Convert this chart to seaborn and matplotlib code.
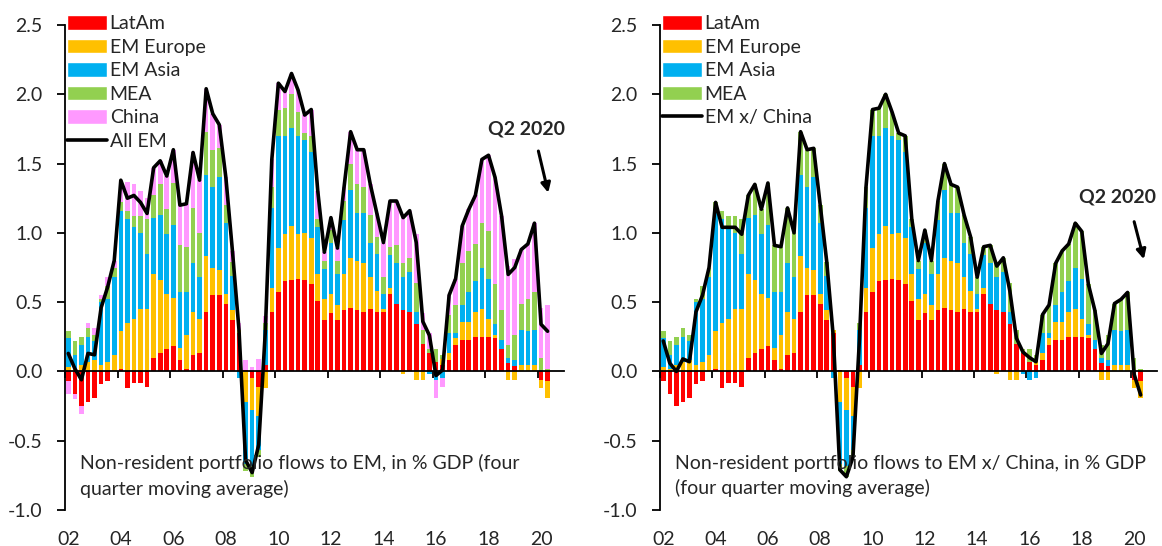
import numpy as np
import pandas as pd
import matplotlib
matplotlib.use("Agg")
import matplotlib.pyplot as plt
import matplotlib.transforms as mtransforms
import seaborn as sns
from matplotlib.patches import Patch
from matplotlib.lines import Line2D
from matplotlib.ticker import FormatStrFormatter

# quarterly data, 2002Q1 .. 2020Q2 (four quarter moving average, % GDP)
quarters = pd.period_range("2002Q1", "2020Q2", freq="Q")

latam = [
    -0.07, -0.16, -0.25, -0.22, -0.19, -0.09, -0.07, 0.00,
    0.02, -0.12, -0.08, -0.08, -0.11, 0.10, 0.13, 0.16,
    0.18, 0.08, 0.02, 0.12, 0.13, 0.43, 0.55, 0.55,
    0.49, 0.37, 0.28, 0.01, -0.05, -0.11, 0.05, 0.43,
    0.57, 0.65, 0.66, 0.67, 0.66, 0.63, 0.51, 0.37,
    0.42, 0.37, 0.44, 0.46, 0.44, 0.43, 0.45, 0.43,
    0.43, 0.56, 0.49, 0.44, 0.43, 0.34, 0.20, 0.13,
    0.07, 0.05, 0.08, 0.19, 0.23, 0.23, 0.25, 0.25,
    0.25, 0.24, 0.16, 0.06, 0.04, 0.00, 0.00, 0.00,
    -0.06, -0.07,
]
em_europe = [
    0.03, 0.02, 0.05, 0.07, 0.08, 0.05, 0.07, 0.12,
    0.27, 0.35, 0.38, 0.45, 0.45, 0.60, 0.53, 0.40,
    0.35, 0.09, 0.24, 0.31, 0.25, 0.40, 0.20, 0.18,
    0.07, 0.07, 0.02, -0.22, -0.23, -0.21, -0.12, 0.17,
    0.32, 0.34, 0.39, 0.32, 0.34, 0.33, 0.19, 0.15,
    0.14, 0.11, 0.26, 0.36, 0.36, 0.35, 0.23, 0.15,
    0.02, 0.04, 0.00, -0.02, 0.00, -0.06, -0.06, 0.00,
    0.00, 0.04, 0.05, 0.05, 0.13, 0.13, 0.18, 0.20,
    0.13, 0.02, 0.00, -0.06, -0.06, 0.05, 0.05, 0.05,
    -0.06, -0.12,
]
em_asia = [
    0.21, 0.10, 0.14, 0.18, 0.14, 0.45, 0.45, 0.56,
    0.87, 0.75, 0.66, 0.55, 0.40, 0.41, 0.47, 0.43,
    0.53, 0.40, 0.31, 0.35, 0.30, 0.59, 0.58, 0.67,
    0.51, 0.25, -0.05, -0.45, -0.40, -0.25, 0.25, 0.58,
    0.81, 0.71, 0.71, 0.71, 0.67, 0.62, 0.34, 0.22,
    0.37, 0.22, 0.39, 0.49, 0.34, 0.36, 0.25, 0.27,
    0.11, 0.24, 0.29, 0.24, 0.29, 0.09, 0.00, -0.02,
    -0.06, -0.05, 0.15, 0.04, 0.12, 0.21, 0.22, 0.30,
    0.29, 0.08, 0.07, 0.04, 0.04, 0.25, 0.24, 0.25,
    0.01, 0.00,
]
mea = [
    0.05, 0.10, 0.06, 0.06, 0.04, 0.02, 0.10, 0.07,
    0.06, 0.06, 0.08, 0.12, 0.25, 0.16, 0.22, 0.18,
    0.30, 0.34, 0.33, 0.40, 0.32, 0.31, 0.27, 0.21,
    0.13, 0.10, 0.00, -0.05, -0.08, -0.05, 0.05, 0.15,
    0.19, 0.20, 0.24, 0.17, 0.05, 0.12, 0.06, 0.06,
    0.09, 0.10, 0.14, 0.19, 0.21, 0.19, 0.20, 0.12,
    0.12, 0.06, 0.13, 0.10, 0.10, 0.21, 0.10, 0.03,
    0.09, 0.03, 0.13, 0.20, 0.30, 0.30, 0.27, 0.32,
    0.34, 0.29, 0.21, 0.09, 0.18, 0.19, 0.23, 0.27,
    0.09, 0.02,
]
china = [
    -0.09, -0.04, -0.06, 0.04, 0.05, 0.03, 0.06, 0.05,
    0.16, 0.21, 0.23, 0.18, 0.15, 0.20, 0.17, 0.24,
    0.24, 0.29, 0.31, 0.40, 0.38, 0.31, 0.26, 0.17,
    0.20, 0.08, 0.05, 0.07, 0.03, 0.09, 0.05, 0.20,
    0.19, 0.12, 0.15, 0.16, 0.13, 0.19, 0.20, 0.06,
    0.09, 0.09, 0.10, 0.23, 0.25, 0.27, 0.22, 0.17,
    0.25, 0.33, 0.32, 0.35, 0.34, 0.35, 0.12, 0.12,
    -0.13, -0.06, 0.14, 0.19, 0.27, 0.30, 0.35, 0.46,
    0.55, 0.77, 0.68, 0.57, 0.55, 0.39, 0.40, 0.50,
    0.36, 0.46,
]

year_labels = ["02", "04", "06", "08", "10", "12", "14", "16", "18", "20"]

colors = {
    "LatAm": "#FF0000",
    "EM Europe": "#FFC000",
    "EM Asia": "#00B0F0",
    "MEA": "#92D050",
    "China": "#FF99FF",
}

sns.set_theme(style="white")
plt.rcParams["font.family"] = ["Lato", "DejaVu Sans"]
plt.rcParams["axes.unicode_minus"] = False
FS = 14
TXT = "#262626"


def stacked_panel(ax, series, line_label, note, q2_text_xy, q2_arrow):
    x = np.arange(len(quarters))
    pos_base = np.zeros(len(x))
    neg_base = np.zeros(len(x))
    for name, vals in series.items():
        v = np.asarray(vals)
        bottom = np.where(v >= 0, pos_base, neg_base)
        ax.bar(x, v, bottom=bottom, width=0.7, color=colors[name], linewidth=0)
        pos_base += np.where(v >= 0, v, 0)
        neg_base += np.where(v < 0, v, 0)

    total = pos_base + neg_base
    sns.lineplot(x=x, y=total, color="black", linewidth=2.6, ax=ax)

    ax.set_xlim(-0.5, 75.5)
    ax.set_ylim(-1.0, 2.5)
    ax.set_yticks(np.arange(-1.0, 2.51, 0.5))
    ax.yaxis.set_major_formatter(FormatStrFormatter("%.1f"))

    for s in ["top", "right"]:
        ax.spines[s].set_visible(False)
    ax.spines["left"].set_color("black")
    ax.spines["left"].set_linewidth(1.3)
    ax.spines["bottom"].set_position(("data", 0))
    ax.spines["bottom"].set_color("black")
    ax.spines["bottom"].set_linewidth(1.3)

    ax.set_xticks(np.arange(-0.5, 76, 8))
    ax.set_xticklabels([])
    ax.tick_params(axis="x", direction="out", length=5, width=1.3, color="black", bottom=True)
    ax.tick_params(axis="y", direction="out", length=6, width=1.3, color="black",
                   left=True, labelsize=FS, labelcolor=TXT, pad=10)

    trans = mtransforms.blended_transform_factory(ax.transData, ax.transAxes)
    for k, lab in enumerate(year_labels):
        ax.text(8 * k, -0.06, lab, transform=trans, ha="center", va="center",
                fontsize=FS, color=TXT)

    ax.text(0.03, 0.07, note, transform=ax.transAxes, ha="left", va="center",
            fontsize=FS, linespacing=1.5, color=TXT)

    ax.text(q2_text_xy[0], q2_text_xy[1], "Q2 2020", ha="center", va="center",
            fontsize=FS, fontweight="bold", color=TXT)
    ax.annotate("", xy=q2_arrow[1], xytext=q2_arrow[0],
                arrowprops=dict(arrowstyle="-|>", color="black", lw=2.2, mutation_scale=14))

    handles = [Patch(facecolor=colors[n], label=n) for n in series]
    handles.append(Line2D([0], [0], color="black", lw=2.6, label=line_label))
    leg = ax.legend(handles=handles, loc="upper left", bbox_to_anchor=(0.005, 1.02),
                    frameon=False, fontsize=FS, handlelength=2.05, handleheight=0.78,
                    handletextpad=0.12, labelspacing=0.33, borderpad=0, borderaxespad=0)
    for t in leg.get_texts():
        t.set_color(TXT)


fig = plt.figure(figsize=(11.62, 5.46), dpi=100)
ax_left = fig.add_axes([65 / 1162, 36 / 546, 499 / 1162, 485 / 546])
ax_right = fig.add_axes([660 / 1162, 36 / 546, 497 / 1162, 485 / 546])

stacked_panel(
    ax_left,
    {"LatAm": latam, "EM Europe": em_europe, "EM Asia": em_asia, "MEA": mea, "China": china},
    "All EM",
    "Non-resident portfolio flows to EM, in % GDP (four\nquarter moving average)",
    (69.8, 1.75),
    ((71.5, 1.61), (73.2, 1.27)),
)
stacked_panel(
    ax_right,
    {"LatAm": latam, "EM Europe": em_europe, "EM Asia": em_asia, "MEA": mea},
    "EM x/ China",
    "Non-resident portfolio flows to EM x/ China, in % GDP\n(four quarter moving average)",
    (69.5, 1.26),
    ((71.9, 1.10), (73.6, 0.79)),
)

fig.savefig("out.png", dpi=100)
